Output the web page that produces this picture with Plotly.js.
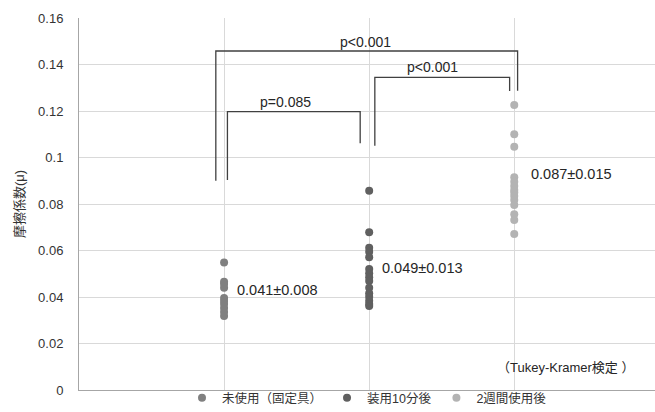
<!DOCTYPE html>
<html>
<head>
<meta charset="utf-8">
<script src="https://cdn.plot.ly/plotly-3.0.1.min.js"></script>
<style>html,body{margin:0;padding:0;background:#fff}#chart{width:655px;height:412px}</style>
</head>
<body>
<div id="chart"></div>
<script>
// ---- data ----
const seriesNames = ['未使用（固定具）', '装用10分後', '2週間使用後'];
const seriesPos = [1, 2, 3];
const values1 = [0.0548, 0.0466, 0.0456, 0.0440, 0.0396, 0.0383, 0.0370, 0.0353, 0.0335, 0.0318];
const values2 = [0.0857, 0.0678, 0.0612, 0.0595, 0.0571, 0.0520, 0.0502, 0.0485, 0.0469, 0.0440, 0.0416, 0.0401, 0.0384, 0.0370, 0.0361];
const values3 = [0.1226, 0.1100, 0.1046, 0.0915, 0.0896, 0.0877, 0.0860, 0.0850, 0.0834, 0.0817, 0.0796, 0.0756, 0.0731, 0.0671];
const meanLabels = ['0.041±0.008', '0.049±0.013', '0.087±0.015'];
const pLabels = ['p<0.001', 'p<0.001', 'p=0.085'];
const noteText = '（Tukey-Kramer検定 ）';
const yTickVals = [0, 0.02, 0.04, 0.06, 0.08, 0.1, 0.12, 0.14, 0.16];
const yTickText = ['0', '0.02', '0.04', '0.06', '0.08', '0.1', '0.12', '0.14', '0.16'];
const yTitle = '摩擦係数(μ)';

// ---- styles ----
const colors = ['#808080', '#606060', '#b3b3b3'];
const FONT = '"Liberation Sans", Arial, "Noto Sans CJK JP", sans-serif';
const allValues = [values1, values2, values3];

const traces = allValues.map((vals, i) => ({
  type: 'scatter', mode: 'markers',
  name: seriesNames[i],
  x: vals.map(() => seriesPos[i]),
  y: vals,
  marker: {color: colors[i], size: 8},
  hoverinfo: 'y'
}));

const lineStyle = {color: '#404040', width: 1.3};
const shapes = [
  // outer bracket 1 vs 3
  {type: 'path', xref: 'x', yref: 'y', path: 'M0.943,0.0900 L0.943,0.1458 L3.023,0.1458 L3.023,0.1287', line: lineStyle},
  // bracket 2 vs 3
  {type: 'path', xref: 'x', yref: 'y', path: 'M2.039,0.1051 L2.039,0.1345 L2.968,0.1345 L2.968,0.1286', line: lineStyle},
  // bracket 1 vs 2
  {type: 'path', xref: 'x', yref: 'y', path: 'M1.023,0.0903 L1.023,0.1197 L1.938,0.1197 L1.938,0.1061', line: lineStyle}
];

const annFont = {family: FONT, size: 14, color: '#262626'};
const annotations = [
  {x: 1.976, y: 0.1498, text: pLabels[0]},
  {x: 2.434, y: 0.1391, text: pLabels[1]},
  {x: 1.421, y: 0.1240, text: pLabels[2]},
].map(a => Object.assign(a, {xref: 'x', yref: 'y', showarrow: false, font: annFont, xanchor: 'center', yanchor: 'middle'}));

const meanPos = [[1.076, 0.0430], [2.076, 0.0525], [3.100, 0.0929]];
meanLabels.forEach((t, i) => annotations.push({
  x: meanPos[i][0], y: meanPos[i][1], text: t, xref: 'x', yref: 'y', showarrow: false,
  xanchor: 'left', yanchor: 'middle', font: {family: FONT, size: 14.5, color: '#262626'}
}));
annotations.push({x: 3.84, y: 0.0095, text: noteText, xref: 'x', yref: 'y', showarrow: false,
  xanchor: 'right', yanchor: 'middle', font: {family: FONT, size: 13, color: '#262626'}});

const layout = {
  width: 655, height: 412,
  margin: {l: 79, r: 0, t: 18, b: 22, autoexpand: false},
  paper_bgcolor: '#fff', plot_bgcolor: '#fff',
  font: {family: FONT, size: 13, color: '#333'},
  showlegend: true,
  legend: {orientation: 'h', x: 0.5, xanchor: 'center', y: -0.022, yanchor: 'middle',
    bgcolor: 'rgba(0,0,0,0)',
    font: {family: FONT, size: 12.5, color: '#333'}, itemwidth: 30, tracegroupgap: 0},
  xaxis: {range: [0, 3.97], tickvals: seriesPos, showticklabels: false, ticks: '',
    showgrid: true, gridcolor: '#d9d9d9', gridwidth: 1, zeroline: false,
    showline: true, linecolor: '#a6a6a6', linewidth: 1, mirror: false, fixedrange: true},
  yaxis: {range: [0, 0.16], tickvals: yTickVals, ticktext: yTickText,
    showgrid: true, gridcolor: '#d9d9d9', gridwidth: 1, zeroline: false,
    showline: true, linecolor: '#a6a6a6', linewidth: 1, ticks: '', ticklabelstandoff: 12,
    tickfont: {family: FONT, size: 13, color: '#333'},
    title: {text: yTitle, font: {family: FONT, size: 13, color: '#333'}, standoff: 10}},
  shapes: shapes,
  annotations: annotations
};

Plotly.newPlot('chart', traces, layout, {displayModeBar: false, staticPlot: true});
</script>
</body>
</html>
